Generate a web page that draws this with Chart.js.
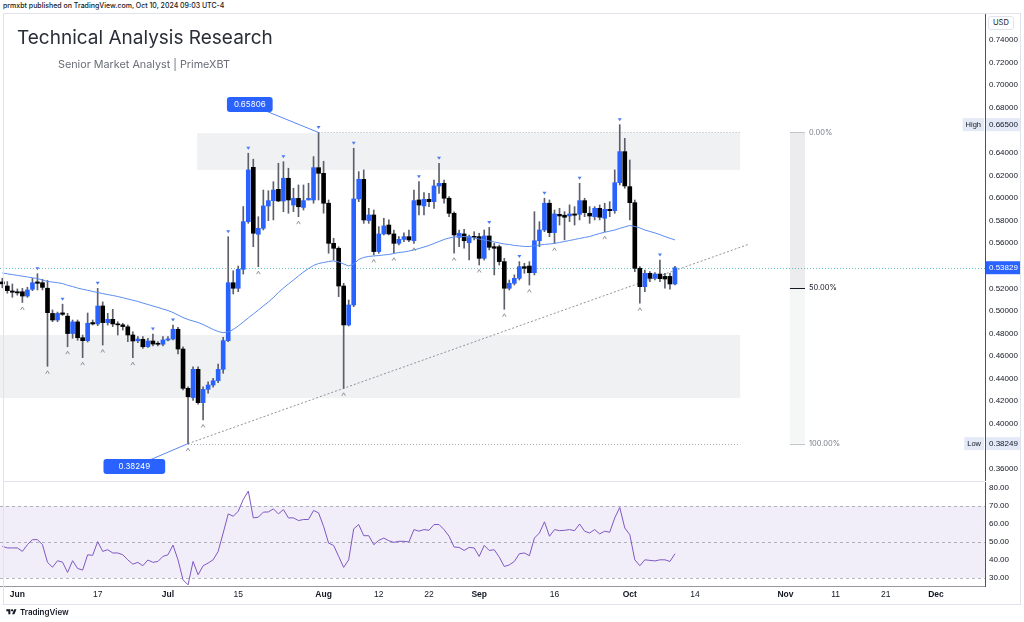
<!DOCTYPE html>
<html>
<head>
<meta charset="utf-8">
<title>XRPUSD - Technical Analysis Research</title>
<script src="https://cdn.jsdelivr.net/npm/chart.js@4.4.1/dist/chart.umd.min.js"></script>
<style>
  body { margin: 0; background: #fff; }
  #page { position: relative; width: 1024px; height: 622px; overflow: hidden; background: #fff;
          font-family: Inter, "Liberation Sans", sans-serif; color: #131722; }
  .abs { position: absolute; }
  #published { left: 3px; top: 1px; font-size: 7px; line-height: 10px; font-weight: 500; white-space: nowrap; }
  #frame { left: 3px; top: 13px; width: 1016px; height: 590px; border: 1px solid #e0e3eb; pointer-events: none; }
  #pricePane { left: 0; top: 14px; width: 1024px; height: 467px; }
  #rsiPane { left: 0; top: 482px; width: 1024px; height: 122px; }
  #sep { left: 3px; top: 481px; width: 982px; height: 1px; background: #e0e3eb; }
  #title { left: 17px; top: 27px; font-size: 19px; line-height: 22px; color: #2a2e39; white-space: nowrap; }
  #subtitle { left: 58px; top: 58px; font-size: 10.8px; line-height: 13px; color: #6a6d78; white-space: nowrap; }
  #usd { left: 988px; top: 16px; font-size: 7.5px; line-height: 10px; padding: 1px 4px; border: 1px solid #e0e3eb; border-radius: 3px; background: #fff; }
  #logo { left: 5px; top: 607px; font-size: 8px; line-height: 10px; font-weight: 600; white-space: nowrap; }
  #logo svg { vertical-align: -1px; margin-right: 2px; }
</style>
</head>
<body>
<div id="page">
  <div id="published" class="abs">prmxbt published on TradingView.com, Oct 10, 2024 09:03 UTC-4</div>
  <div id="pricePane" class="abs"><canvas id="priceChart"></canvas></div>
  <div id="rsiPane" class="abs"><canvas id="rsiChart"></canvas></div>
  <div id="sep" class="abs"></div>
  <div id="frame" class="abs"></div>
  <div id="title" class="abs">Technical Analysis Research</div>
  <div id="subtitle" class="abs">Senior Market Analyst | PrimeXBT</div>
  <div id="usd" class="abs">USD</div>
  <div id="logo" class="abs"><svg width="13" height="8" viewBox="0 0 36 28"><path d="M14 22H7V11H0V4h14v18zM28 22h-8l7.5-18h8L28 22z" fill="#131722"/><circle cx="20" cy="8" r="4" fill="#131722"/></svg>TradingView</div>
</div>

<script>
// daily candles, first one is 29 May 2024, last one 10 Oct 2024
const startDate = Date.UTC(2024, 4, 29);

const opens = [
  .5257,.5221,.5177,.5170,.5170,.5132,.5192,.5257,.5250,.5201,
  .4978,.4920,.4983,.4954,.4800,.4903,.4763,.4737,.4897,.4885,
  .5044,.4896,.4926,.4885,.4877,.4860,.4787,.4736,.4749,.4683,
  .4734,.4712,.4705,.4743,.4752,.4838,.4663,.4315,.4233,.4483,
  .4188,.4306,.4344,.4382,.4483,.4737,.5250,.5201,.5369,.5791,
  .6272,.5679,.5732,.5930,.5977,.6077,.5974,.6175,.5938,.5997,
  .5917,.5983,.5983,.6269,.6219,.5954,.5599,.5555,.5221,.4876,
  .5053,.5992,.6166,.5801,.5850,.5526,.5682,.5761,.5682,.5599,
  .5634,.5658,.5622,.5983,.5930,.5989,.5968,.6107,.6130,.5998,
  .5865,.5652,.5682,.5604,.5658,.5658,.5466,.5664,.5569,.5569,
  .5437,.5201,.5245,.5289,.5392,.5398,.5339,.5622,.5717,.5954,
  .5694,.5856,.5848,.5841,.5859,.5856,.5977,.5865,.5835,.5909,
  .5821,.5900,.5888,.6136,.6411,.6101,.5959,.5378,.5215,.5333,
  .5289,.5327,.5306,.5306,.5239
];
const highs = [
  .5290,.5260,.5239,.5195,.5200,.5210,.5289,.5330,.5280,.5270,
  .5009,.4990,.5060,.4979,.4920,.4920,.4787,.4982,.4920,.5200,
  .5080,.4979,.5015,.4905,.4891,.4876,.4816,.4772,.4772,.4758,
  .4796,.4728,.4772,.4772,.4876,.4855,.4683,.4329,.4506,.4506,
  .4329,.4373,.4403,.4530,.4767,.5658,.5356,.5398,.5925,.6397,
  .6344,.5835,.6071,.6065,.6145,.6308,.6322,.6264,.6087,.6116,
  .6116,.6131,.6367,.65806,.6326,.5983,.5644,.5569,.5245,.5097,
  .6441,.6234,.6249,.5909,.5894,.5747,.5821,.5806,.5717,.5658,
  .5693,.5717,.6071,.6145,.6048,.6042,.6160,.6308,.6160,.6012,
  .5879,.5717,.5723,.5673,.5702,.5688,.5717,.5740,.5599,.5584,
  .5466,.5274,.5319,.5437,.5422,.5437,.5879,.5791,.5998,.5983,
  .5894,.5909,.5880,.5939,.5924,.6131,.5998,.5924,.5924,.5939,
  .5954,.5968,.6249,.6650,.6529,.6337,.5983,.5392,.5363,.5348,
  .5339,.5451,.5334,.5334,.5395
];
const lows = [
  .5205,.5157,.5121,.5140,.5075,.5121,.5180,.5186,.5186,.4510,
  .4905,.4905,.4960,.4683,.4758,.4740,.4586,.4725,.4875,.4870,
  .4698,.4875,.4861,.4787,.4831,.4728,.4586,.4719,.4669,.4678,
  .4690,.4690,.4690,.4735,.4743,.4620,.4300,.38249,.4207,.4175,
  .4034,.4271,.4324,.4365,.4448,.4728,.5151,.5171,.5327,.5776,
  .5569,.5392,.5717,.5800,.5806,.5968,.5879,.5865,.5879,.5835,
  .5894,.5983,.5954,.5983,.5866,.5511,.5451,.5127,.4315,.4867,
  .5038,.5968,.5776,.5776,.5496,.5511,.5673,.5673,.5511,.5584,
  .5614,.5614,.5599,.5850,.5850,.5924,.5909,.6042,.5954,.5835,
  .5511,.5569,.5555,.5451,.5629,.5407,.5451,.5540,.5319,.5407,
  .5015,.5186,.5230,.5274,.5334,.5230,.5319,.5569,.5702,.5658,
  .5599,.5761,.5629,.5791,.5761,.5806,.5835,.5776,.5806,.5806,
  .5702,.5835,.5865,.6116,.6087,.5806,.5348,.5068,.5171,.5259,
  .5274,.5259,.5201,.5192,.5230
];
const closes = [
  .5240,.5180,.5166,.5160,.5132,.5186,.5250,.5245,.5209,.4985,
  .4920,.4978,.4970,.4800,.4903,.4763,.4737,.4891,.4885,.5044,
  .4897,.4926,.4885,.4877,.4862,.4787,.4734,.4751,.4683,.4734,
  .4707,.4705,.4743,.4752,.4838,.4663,.4315,.4240,.4483,.4188,
  .4306,.4344,.4382,.4483,.4737,.5250,.5201,.5369,.5791,.6249,
  .5688,.5732,.5930,.5977,.6071,.5974,.6175,.5983,.5997,.5923,
  .5977,.5997,.6269,.6219,.5954,.5599,.5555,.5221,.4876,.5053,
  .5992,.6166,.5806,.5850,.5526,.5682,.5753,.5682,.5599,.5634,
  .5658,.5629,.5977,.5938,.5989,.5968,.6107,.6130,.5998,.5865,
  .5673,.5688,.5622,.5658,.5652,.5466,.5664,.5564,.5555,.5437,
  .5201,.5245,.5289,.5392,.5378,.5339,.5622,.5717,.5954,.5694,
  .5859,.5841,.5830,.5859,.5848,.5977,.5871,.5841,.5909,.5830,
  .5900,.5888,.6136,.6411,.6107,.5959,.5378,.5215,.5333,.5289,
  .5327,.5286,.5283,.5239,.53829
];
// blue moving average
const maValues = [
  .5336,.5329,.5322,.5315,.5308,.5301,.5294,.5287,.5274,.5261,
  .5256,.5250,.5243,.5227,.5216,.5203,.5192,.5183,.5173,.5163,
  .5154,.5145,.5137,.5128,.5117,.5106,.5095,.5084,.5070,.5057,
  .5044,.5031,.5017,.5004,.4986,.4964,.4942,.4924,.4911,.4898,
  .4880,.4858,.4836,.4818,.4807,.4814,.4836,.4867,.4902,.4938,
  .4973,.5008,.5044,.5079,.5119,.5163,.5203,.5239,.5274,.5310,
  .5345,.5376,.5403,.5420,.5429,.5438,.5443,.5434,.5416,.5398,
  .5416,.5456,.5474,.5483,.5487,.5491,.5496,.5500,.5509,.5518,
  .5522,.5531,.5540,.5553,.5566,.5580,.5598,.5615,.5633,.5646,
  .5655,.5659,.5659,.5655,.5646,.5637,.5629,.5620,.5611,.5602,
  .5593,.5589,.5580,.5576,.5571,.5571,.5576,.5584,.5589,.5593,
  .5598,.5607,.5615,.5624,.5633,.5642,.5651,.5659,.5673,.5686,
  .5697,.5707,.5717,.5731,.5744,.5757,.5748,.5735,.5717,.5704,
  .5691,.5676,.5659,.5644,.5629
];
const rsiValues = [
  47.6,46.7,46.7,46.7,44.8,48.5,51.3,51.3,48.5,38.7,
  36.0,39.6,38.8,33.1,39.6,35.3,34.4,42.9,42.6,50.2,
  44.8,45.7,43.9,43.9,42.9,40.1,37.7,38.7,36.8,40.0,
  38.7,39.2,42.0,42.9,48.3,40.1,29.0,26.2,39.2,31.8,
  36.8,38.3,40.1,44.8,55.0,65.6,64.3,67.1,73.6,78.3,
  63.4,63.8,66.6,66.7,68.4,65.6,68.0,63.4,63.4,61.9,
  62.5,62.5,67.5,66.2,58.7,49.4,48.1,42.0,35.9,40.1,
  57.3,59.7,53.5,53.5,48.5,50.9,52.2,50.7,49.8,50.4,
  50.4,50.0,56.9,56.0,56.9,56.5,59.7,59.7,56.9,53.2,
  47.2,47.0,45.3,47.0,46.7,42.0,48.1,45.3,45.7,41.6,
  36.4,37.3,39.2,43.5,43.9,42.4,52.2,55.0,61.2,53.2,
  56.9,56.3,56.5,56.9,56.3,60.0,56.0,55.0,56.9,54.5,
  56.0,55.4,63.4,69.2,57.8,54.1,40.1,36.8,40.1,39.8,
  39.5,40.1,40.1,39.2,43.5
];

// pivot markers (candle indexes)
const highMarks = [7,12,19,30,34,45,49,56,63,70,83,87,97,103,108,115,123,131];
const lowMarks = [4,9,13,16,20,26,37,40,51,59,68,74,78,82,90,95,100,105,110,120,127];

// axis ticks
const priceTicks = [0.36,0.40,0.42,0.44,0.46,0.48,0.50,0.52,0.56,0.58,0.60,0.62,0.64,0.68,0.70,0.72,0.74];
const rsiTicks = [30,40,50,60,70,80];
const rsiLevels = [30,50,70];
const tickDates = ['2024-06-01','2024-06-17','2024-07-01','2024-07-15','2024-08-01','2024-08-12','2024-08-22',
                   '2024-09-01','2024-09-16','2024-10-01','2024-10-14','2024-11-01','2024-11-11','2024-11-21','2024-12-01'];
const tickLabels = ['Jun','17','Jul','15','Aug','12','22','Sep','16','Oct','14','Nov','11','21','Dec'];

// drawings on the chart (index / price coordinates)
const zones = [
  { from: 38.8, to: 147, top: 0.6575, bottom: 0.6249 },
  { from: -0.5, to: 147, top: 0.4787, bottom: 0.4229 }
];
const fib = { from: 156.9, to: 159.9, hiIndex: 63, loIndex: 37 };
const trend = { a: 37, b: 68, end: 148.5 };
const callouts = [
  { index: 63, price: highs[63], boxIndex: 49.3, boxPrice: 0.6829, pad: 14 },
  { index: 37, price: lows[37], boxIndex: 26.3, boxPrice: 0.3622, pad: 30 }
];

const FONT = 'Inter, "Liberation Sans", sans-serif';
const AXIS_FONT = '"Liberation Sans", Arial, sans-serif';
Chart.defaults.font.family = FONT;
Chart.defaults.color = '#131722';

const X_MIN = -0.46, X_MAX = 195.76;
const AXIS_W = 39;
const UP = '#2962ff', DOWN = '#000000';
const idx = closes.map((c, i) => i);
const dayIndex = d => (Date.parse(d) - startDate) / 86400000;
const tickIdx = tickDates.map(dayIndex);

const slope = (lows[trend.b] - lows[trend.a]) / (trend.b - trend.a);
const trendPts = [
  { x: trend.a, y: lows[trend.a] },
  { x: trend.end, y: lows[trend.a] + slope * (trend.end - trend.a) }
];

function hline(ctx, x1, x2, y) {
  ctx.beginPath(); ctx.moveTo(x1, y); ctx.lineTo(x2, y); ctx.stroke();
}
function rrect(ctx, x, y, w, h, r) {
  ctx.beginPath();
  if (ctx.roundRect) ctx.roundRect(x, y, w, h, r); else ctx.rect(x, y, w, h);
}

const priceOverlay = {
  id: 'priceOverlay',
  beforeDatasetsDraw(chart) {
    const { ctx, chartArea: a, scales: { x, y } } = chart;
    ctx.save();
    ctx.beginPath(); ctx.rect(a.left, a.top, a.width, a.height); ctx.clip();

    ctx.fillStyle = 'rgba(120,123,134,0.11)';
    zones.forEach(z => {
      const l = x.getPixelForValue(z.from), r = x.getPixelForValue(z.to);
      const t = y.getPixelForValue(z.top), b = y.getPixelForValue(z.bottom);
      ctx.fillRect(l, t, r - l, b - t);
    });

    // fib retracement
    const hi = highs[fib.hiIndex], lo = lows[fib.loIndex];
    const fl = x.getPixelForValue(fib.from), fr = x.getPixelForValue(fib.to);
    const y0 = y.getPixelForValue(hi), y50 = y.getPixelForValue((hi + lo) / 2), y100 = y.getPixelForValue(lo);
    ctx.fillStyle = 'rgba(120,123,134,0.14)'; ctx.fillRect(fl, y0, fr - fl, y50 - y0);
    ctx.fillStyle = 'rgba(120,123,134,0.07)'; ctx.fillRect(fl, y50, fr - fl, y100 - y50);
    ctx.lineWidth = 1;
    ctx.strokeStyle = '#c3c5cc'; hline(ctx, fl, fr, Math.round(y0) + 0.5); hline(ctx, fl, fr, Math.round(y100) + 0.5);
    ctx.strokeStyle = '#131722'; hline(ctx, fl, fr, Math.round(y50) + 0.5);
    ctx.font = '7.5px ' + FONT; ctx.textBaseline = 'middle'; ctx.fillStyle = '#787b86';
    ctx.fillText('0.00%', fr + 4, y0);
    ctx.fillText('100.00%', fr + 4, y100);
    ctx.fillStyle = '#131722';
    ctx.fillText('50.00%', fr + 4, y50);

    // dotted lines at the swing high / low
    ctx.setLineDash([1, 2]); ctx.strokeStyle = '#a3a6af';
    hline(ctx, x.getPixelForValue(fib.hiIndex), x.getPixelForValue(zones[0].to), Math.round(y0) + 0.5);
    hline(ctx, x.getPixelForValue(fib.loIndex), x.getPixelForValue(zones[0].to), Math.round(y100) + 0.5);

    // last price line
    ctx.strokeStyle = 'rgba(38,166,154,0.7)';
    hline(ctx, a.left, a.right, Math.round(y.getPixelForValue(closes[closes.length - 1])) + 0.5);
    ctx.restore();
  },
  afterDatasetsDraw(chart) {
    const { ctx, chartArea: a, scales: { x, y } } = chart;
    ctx.save();
    ctx.beginPath(); ctx.rect(a.left, a.top, a.width, a.height); ctx.clip();
    // pivot markers
    ctx.fillStyle = '#4b7bf5';
    highMarks.forEach(i => {
      const px = x.getPixelForValue(i), py = y.getPixelForValue(highs[i]) - 5;
      ctx.beginPath(); ctx.moveTo(px - 2, py - 1.5); ctx.lineTo(px + 2, py - 1.5); ctx.lineTo(px, py + 1.5); ctx.closePath(); ctx.fill();
    });
    ctx.strokeStyle = '#787b86'; ctx.lineWidth = 0.8;
    lowMarks.forEach(i => {
      const px = x.getPixelForValue(i), py = y.getPixelForValue(lows[i]) + 6;
      ctx.beginPath(); ctx.moveTo(px - 1.8, py + 1.5); ctx.lineTo(px, py - 1.5); ctx.lineTo(px + 1.8, py + 1.5); ctx.stroke();
    });
    // price callouts
    ctx.font = '8px ' + FONT; ctx.textAlign = 'center'; ctx.textBaseline = 'middle';
    callouts.forEach(c => {
      const px = x.getPixelForValue(c.index), py = y.getPixelForValue(c.price);
      const bx = x.getPixelForValue(c.boxIndex), by = y.getPixelForValue(c.boxPrice);
      ctx.strokeStyle = '#5a88f0'; ctx.lineWidth = 1;
      ctx.beginPath(); ctx.moveTo(bx, by); ctx.lineTo(px, py); ctx.stroke();
      const label = c.price.toFixed(5);
      const w = ctx.measureText(label).width + c.pad, h = 15;
      ctx.fillStyle = '#2962ff'; rrect(ctx, bx - w / 2, by - h / 2, w, h, 3); ctx.fill();
      ctx.fillStyle = '#ffffff'; ctx.fillText(label, bx, by + 0.5);
    });
    ctx.restore();
  },
  afterDraw(chart) {
    const { ctx, chartArea: a, scales: { y } } = chart;
    const L = a.right, R = L + 35;
    ctx.save();
    ctx.textBaseline = 'middle';
    const tag = (price, bg, fg, side) => {
      const py = y.getPixelForValue(price);
      ctx.font = '8px ' + AXIS_FONT;
      ctx.fillStyle = bg; ctx.fillRect(L + 1, py - 6.5, R - L - 1, 13);
      ctx.fillStyle = fg; ctx.textAlign = 'left'; ctx.fillText(price.toFixed(5), L + 4, py);
      if (side) {
        ctx.font = '7.5px ' + AXIS_FONT;
        const w = ctx.measureText(side).width + 6;
        ctx.fillStyle = bg; ctx.fillRect(L - w - 1, py - 6.5, w, 13);
        ctx.fillStyle = fg; ctx.fillText(side, L - w + 2, py);
      }
    };
    tag(Math.max(...highs), '#e3e9f7', '#131722', 'High');
    tag(Math.min(...lows), '#e3e9f7', '#131722', 'Low');
    tag(closes[closes.length - 1], '#2962ff', '#ffffff', '');
    ctx.restore();
  }
};

const rsiOverlay = {
  id: 'rsiOverlay',
  beforeDatasetsDraw(chart) {
    const { ctx, chartArea: a, scales: { y } } = chart;
    ctx.save();
    const t = y.getPixelForValue(70), b = y.getPixelForValue(30);
    ctx.fillStyle = 'rgba(126,87,194,0.1)';
    ctx.fillRect(a.left, t, a.width, b - t);
    ctx.setLineDash([3, 3]); ctx.strokeStyle = 'rgba(120,123,134,0.55)'; ctx.lineWidth = 1;
    rsiLevels.forEach(v => hline(ctx, a.left, a.right, Math.round(y.getPixelForValue(v)) + 0.5));
    ctx.restore();
  }
};

const rightAxis = (min, max, ticks, digits) => ({
  type: 'linear', position: 'right', min: min, max: max,
  grid: { display: false, drawTicks: false, tickLength: 0 },
  border: { display: true, color: '#50535e' },
  ticks: { font: { size: 8, family: AXIS_FONT }, color: '#131722', padding: 4, callback: v => Number(v).toFixed(digits) },
  afterBuildTicks: s => { s.ticks = ticks.map(v => ({ value: v })); },
  afterFit: s => { s.width = AXIS_W; s.paddingTop = 0; s.paddingBottom = 0; }
});

new Chart('priceChart', {
  type: 'bar',
  data: {
    datasets: [
      {
        label: 'wicks',
        data: idx.map(i => ({ x: i, y: [lows[i], highs[i]] })),
        backgroundColor: '#5d606b',
        barThickness: 1, grouped: false, order: 3
      },
      {
        label: 'bodies',
        data: idx.map(i => ({ x: i, y: [opens[i], closes[i]] })),
        backgroundColor: idx.map(i => closes[i] >= opens[i] ? UP : DOWN),
        barThickness: 4, minBarLength: 1, grouped: false, order: 2
      },
      {
        type: 'line', label: 'MA',
        data: idx.map(i => ({ x: i, y: maValues[i] })),
        borderColor: '#5b8def', borderWidth: 1, pointRadius: 0, order: 1
      },
      {
        type: 'line', label: 'trend',
        data: trendPts,
        borderColor: '#8f929b', borderWidth: 1, borderDash: [2, 2], pointRadius: 0, order: 4
      }
    ]
  },
  options: {
    responsive: true, maintainAspectRatio: false, animation: false,
    layout: { padding: 0 },
    plugins: { legend: { display: false }, tooltip: { enabled: false } },
    scales: {
      x: { type: 'linear', min: X_MIN, max: X_MAX, display: false, offset: false },
      y: rightAxis(0.3494, 0.7630, priceTicks, 5)
    }
  },
  plugins: [priceOverlay]
});

new Chart('rsiChart', {
  type: 'line',
  data: {
    datasets: [{
      label: 'RSI',
      data: idx.map(i => ({ x: i, y: rsiValues[i] })),
      borderColor: '#7e57c2', borderWidth: 1, pointRadius: 0
    }]
  },
  options: {
    responsive: true, maintainAspectRatio: false, animation: false,
    layout: { padding: 0 },
    plugins: { legend: { display: false }, tooltip: { enabled: false } },
    scales: {
      x: {
        type: 'linear', min: X_MIN, max: X_MAX, offset: false,
        grid: { display: false, drawTicks: false, tickLength: 0 },
        border: { display: true, color: '#9598a1', width: 1 },
        ticks: {
          autoSkip: false, maxRotation: 0, padding: 4, color: '#131722',
          font: c => ({ size: 8.5, family: AXIS_FONT, weight: isNaN(Number(tickLabels[c.index])) ? 'bold' : 'normal' }),
          callback: (v, i) => tickLabels[i]
        },
        afterBuildTicks: s => { s.ticks = tickIdx.map(v => ({ value: v })); },
        afterFit: s => { s.height = 18; s.paddingLeft = 0; s.paddingRight = 0; }
      },
      y: rightAxis(25.56, 83.33, rsiTicks, 2)
    }
  },
  plugins: [rsiOverlay]
});
</script>
</body>
</html>
